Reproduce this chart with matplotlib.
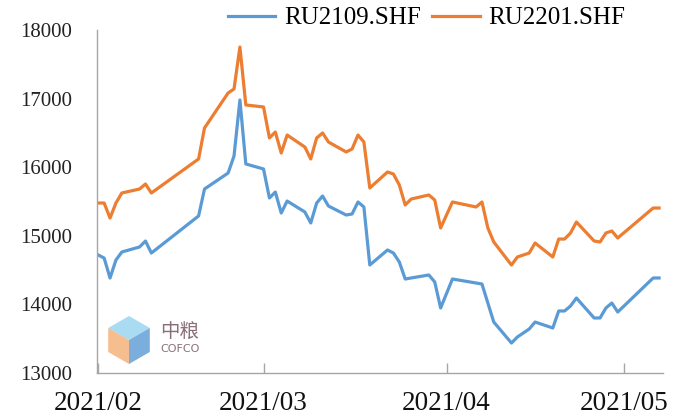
import matplotlib
matplotlib.use("Agg")
import matplotlib.pyplot as plt
import matplotlib.dates as mdates
from matplotlib.patches import Polygon
import numpy as np
import pandas as pd

dates = [
    "2021-02-01", "2021-02-02", "2021-02-03", "2021-02-04", "2021-02-05",
    "2021-02-08", "2021-02-09", "2021-02-10", "2021-02-18", "2021-02-19",
    "2021-02-23", "2021-02-24", "2021-02-25", "2021-02-26",
    "2021-03-01", "2021-03-02", "2021-03-03", "2021-03-04", "2021-03-05",
    "2021-03-08", "2021-03-09", "2021-03-10", "2021-03-11", "2021-03-12",
    "2021-03-15", "2021-03-16", "2021-03-17", "2021-03-18", "2021-03-19",
    "2021-03-22", "2021-03-23", "2021-03-24", "2021-03-25", "2021-03-26",
    "2021-03-29", "2021-03-30", "2021-03-31",
    "2021-04-02", "2021-04-06", "2021-04-07", "2021-04-08", "2021-04-09",
    "2021-04-12", "2021-04-13", "2021-04-15", "2021-04-16",
    "2021-04-19", "2021-04-20", "2021-04-21", "2021-04-22", "2021-04-23",
    "2021-04-26", "2021-04-27", "2021-04-28", "2021-04-29", "2021-04-30",
    "2021-05-06", "2021-05-07",
]

ru2109 = [
    14720, 14676, 14385, 14647, 14764,
    14837, 14924, 14749, 15289, 15682,
    15915, 16163, 16980, 16047,
    15974, 15551, 15638, 15332, 15507,
    15347, 15187, 15478, 15580, 15434,
    15303, 15318, 15493, 15420, 14574,
    14793, 14749, 14618, 14370, 14385,
    14429, 14327, 13948,
    14370, 14312, 14297, 14020, 13743,
    13437, 13525, 13641, 13743,
    13656, 13904, 13904, 13977, 14093,
    13802, 13802, 13948, 14020, 13889,
    14385, 14385,
]

ru2201 = [
    15478, 15478, 15259, 15478, 15624,
    15682, 15755, 15624, 16120, 16571,
    17082, 17140, 17752, 16907,
    16878, 16426, 16513, 16207, 16469,
    16294, 16120, 16426, 16499, 16367,
    16222, 16265, 16469, 16367, 15697,
    15930, 15901, 15741, 15449, 15536,
    15595, 15522, 15114,
    15493, 15420, 15493, 15114, 14910,
    14574, 14691, 14749, 14895,
    14691, 14953, 14953, 15041, 15201,
    14924, 14910, 15041, 15070, 14968,
    15405, 15405,
]

series_names = ["RU2109.SHF", "RU2201.SHF"]
tick_dates = ["2021-02-01", "2021-03-01", "2021-04-01", "2021-05-01"]
y_ticks = [13000, 14000, 15000, 16000, 17000, 18000]

x = pd.to_datetime(dates)

W, H = 673, 418
fig = plt.figure(figsize=(W / 100, H / 100), dpi=100)
ax = fig.add_axes([97 / W, 1 - 373 / H, (663 - 97) / W, (373 - 30) / H])

ax.plot(x, ru2109, color="#5B9BD5", lw=2.3, label=series_names[0], solid_joinstyle="round")
ax.plot(x, ru2201, color="#ED7D31", lw=2.3, label=series_names[1], solid_joinstyle="round")

ax.set_ylim(13000, 18000)
ax.set_yticks(y_ticks)
ax.set_xlim(pd.Timestamp("2021-02-01") - pd.Timedelta(hours=5),
            pd.Timestamp("2021-05-07") + pd.Timedelta(hours=16))
ax.set_xticks(pd.to_datetime(tick_dates))
ax.xaxis.set_major_formatter(mdates.DateFormatter("%Y/%m"))

for s in ["top", "right"]:
    ax.spines[s].set_visible(False)
for s in ["left", "bottom"]:
    ax.spines[s].set_color("#A6A6A6")
    ax.spines[s].set_linewidth(1.0)

ax.tick_params(axis="x", direction="in", length=7, color="#A6A6A6", width=1.0,
               pad=13, labelsize=19.5, labelcolor="#111111")
ax.tick_params(axis="y", length=0, pad=18, labelsize=15, labelcolor="#222222")
for lab in ax.get_xticklabels() + ax.get_yticklabels():
    lab.set_fontfamily("Liberation Serif")

leg = fig.legend(loc="center", bbox_to_anchor=(0.634, 1 - 18 / H), ncol=2,
                 frameon=False, handlelength=1.9, handletextpad=0.35,
                 columnspacing=0.45, prop={"family": "Liberation Serif", "size": 18})

# COFCO logo watermark
def px(xp, yp):
    return (xp / W, 1 - yp / H)

cx, cy, r = 129, 340, 24
ang = np.deg2rad([90, 150, 210, 270, 330, 30])
v = [(cx + r * np.cos(a), cy - r * np.sin(a)) for a in ang]
c = (cx, cy)
parts = [
    ([c, v[5], v[0], v[1]], "#8ccfee"),
    ([c, v[1], v[2], v[3]], "#f4a86a"),
    ([c, v[3], v[4], v[5]], "#4f93d2"),
]
for pts, col in parts:
    fig.add_artist(Polygon([px(*p) for p in pts], closed=True, transform=fig.transFigure,
                           facecolor=col, edgecolor="none", alpha=0.75))
fig.text(*px(160, 332), "中粮", fontsize=14, color="#8a6f78",
         family=["Noto Sans CJK SC", "DejaVu Sans"], va="center", ha="left")
fig.text(*px(160, 349), "COFCO", fontsize=8, color="#8a6f78",
         family="DejaVu Sans", va="center", ha="left")

fig.savefig("out.png", dpi=100)
